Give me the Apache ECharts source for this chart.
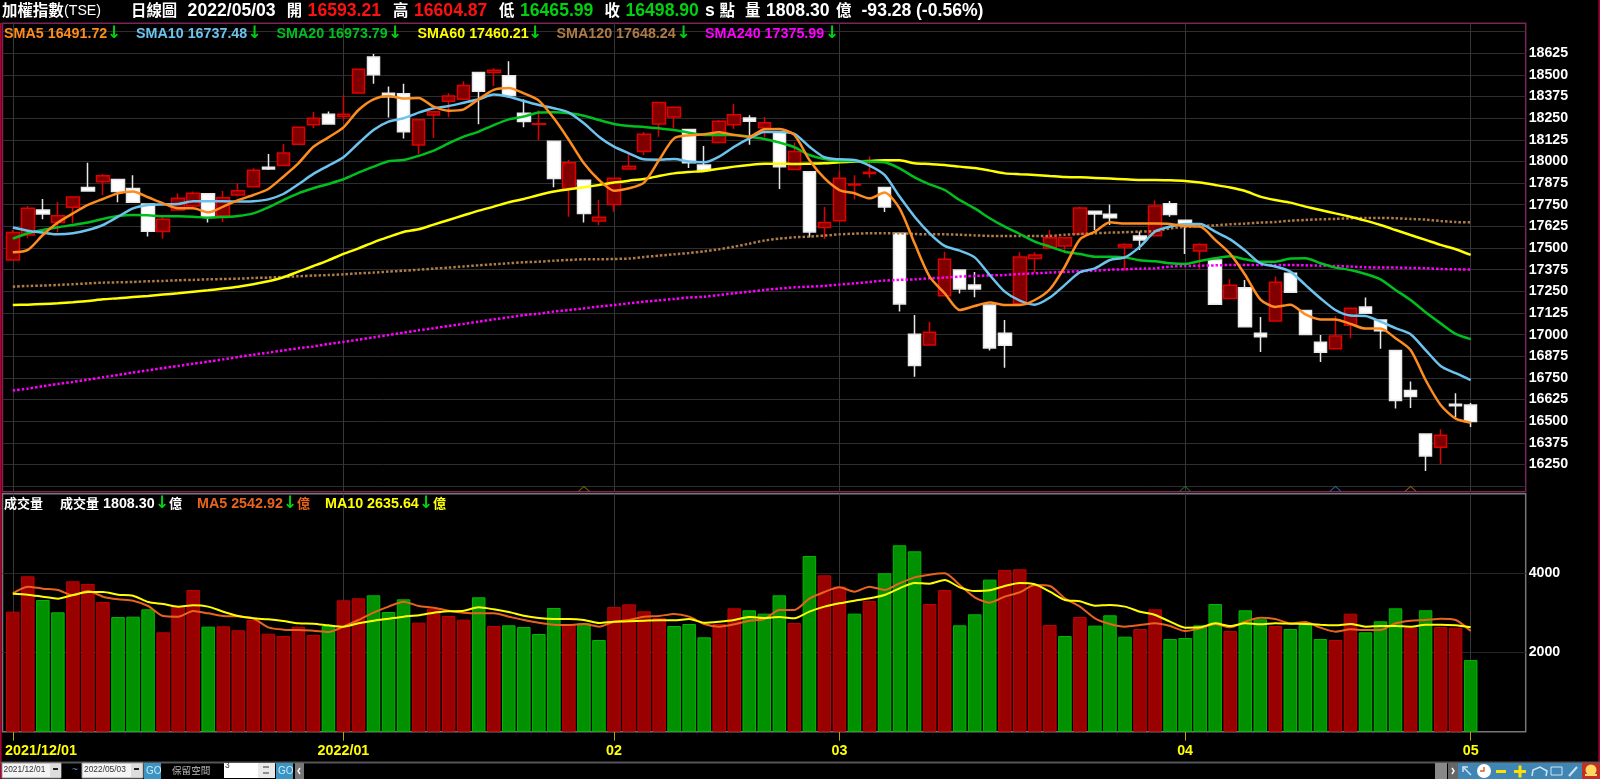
<!DOCTYPE html>
<html>
<head>
<meta charset="utf-8">
<style>html,body{margin:0;padding:0;background:#000;overflow:hidden}#c{width:1600px;height:779px}</style>
<script src="https://cdn.jsdelivr.net/npm/echarts@6/dist/echarts.min.js"></script>
</head>
<body>
<div id="c"></div>
<script>
const opens=[17431,17575,17720,17647,17735,17849,17883,17895,17843,17754,17595,17720,17743,17814,17687,17806,17854,17966,17976,18099,18212,18272,18260,18395,18603,18393,18391,18095,18268,18347,18359,18513,18513,18495,18278,18214,18116,17843,17891,17656,17752,17956,18057,18216,18257,18184,17980,18109,18212,18251,18195,18172,17953,17941,17618,17658,17864,17931,17849,17585,17002,16940,17225,17373,17287,17171,17008,17177,17439,17498,17512,17581,17712,17695,17506,17570,17571,17756,17660,17483,17431,17208,17271,17008,17079,17354,17139,16956,16919,17054,17160,17085,16909,16677,16426,16349,16598,16593.21];
const closes=[17589,17729,17697,17687,17795,17829,17918,17826,17764,17597,17666,17787,17816,17681,17791,17831,17949,17956,18049,18197,18249,18216,18272,18532,18501,18374,18172,18241,18287,18378,18439,18405,18526,18380,18230,18218,17901,17993,17700,17677,17903,17972,18157,18341,18313,17993,17951,18232,18270,18232,18224,17970,18057,17593,17648,17903,17868,17937,17737,17177,16821,17013,17435,17264,17264,16923,16938,17448,17460,17560,17560,17731,17697,17675,17521,17546,17743,17693,17639,17521,17175,17285,17046,16988,17302,17244,17000,16898,16992,17152,17123,17023,16619,16642,16299,16419,16590,16498.90];
const lows=[17431,17556,17666,17589,17643,17829,17806,17764,17764,17566,17554,17716,17724,17647,17650,17797,17854,17951,17976,18099,18193,18216,18235,18395,18449,18253,18133,18043,18135,18255,18359,18214,18436,18380,18197,18124,17851,17681,17647,17631,17710,17956,18037,18143,18191,17962,17951,18109,18189,18097,18139,17841,17953,17562,17552,17658,17781,17906,17708,17133,16757,16940,17225,17237,17216,16908,16809,17177,17358,17498,17470,17581,17604,17633,17369,17489,17571,17681,17466,17377,17175,17208,17046,16900,17079,17244,17000,16842,16919,16979,17123,16919,16573,16576,16213,16253,16523,16465.99];
const highs=[17604,17743,17783,17766,17795,17993,17928,17895,17920,17754,17677,17816,17827,17814,17829,17874,17960,18043,18101,18197,18286,18289,18382,18532,18620,18432,18449,18241,18287,18393,18463,18513,18538,18578,18359,18295,18116,18008,17891,17777,17903,18043,18170,18341,18313,18184,18089,18239,18332,18266,18257,18172,18109,17941,17737,17943,17920,18028,17849,17585,17114,17075,17479,17373,17362,17171,17085,17475,17475,17604,17560,17739,17712,17752,17527,17595,17774,17772,17660,17527,17431,17319,17316,17102,17335,17354,17139,16998,17108,17152,17215,17085,16909,16730,16426,16453,16661,16604.87];

const sma5=[17475,17489,17575,17647,17700,17749,17783,17816,17827,17793,17758,17729,17729,17706,17739,17777,17806,17841,17912,17989,18085,18139,18197,18297,18359,18378,18364,18366,18316,18293,18301,18359,18413,18424,18393,18351,18249,18124,17989,17893,17831,17845,17878,18008,18133,18151,18157,18168,18153,18143,18186,18187,18153,18008,17903,17835,17816,17787,17820,17729,17527,17335,17239,17142,17165,17185,17171,17171,17200,17262,17393,17550,17595,17649,17641,17641,17641,17639,17627,17624,17547,17466,17344,17204,17160,17173,17117,17088,17088,17062,17035,17035,16979,16911,16738,16594,16515,16491.72];
const sma10=[17618,17600,17589,17579,17585,17604,17633,17681,17729,17749,17752,17754,17770,17770,17770,17768,17770,17781,17812,17868,17928,17976,18024,18105,18182,18230,18249,18282,18307,18320,18339,18359,18386,18374,18349,18326,18307,18282,18220,18143,18085,18047,18012,18010,18014,17999,17995,18028,18085,18133,18170,18170,18159,18085,18024,18012,18008,17976,17922,17797,17681,17585,17512,17485,17446,17344,17248,17196,17173,17214,17287,17360,17383,17431,17446,17508,17595,17624,17639,17639,17595,17550,17485,17412,17393,17364,17287,17210,17142,17110,17108,17075,17037,17002,16911,16819,16777,16737.48];
const sma20=[17554,17585,17604,17620,17633,17647,17668,17685,17691,17689,17683,17683,17681,17675,17679,17685,17700,17735,17777,17816,17845,17870,17897,17935,17970,18001,18008,18032,18062,18105,18143,18172,18210,18243,18259,18282,18284,18278,18264,18239,18216,18205,18199,18191,18182,18166,18153,18153,18153,18143,18130,18109,18082,18037,18014,18003,18003,17999,17995,17960,17908,17868,17835,17777,17729,17672,17623,17581,17537,17508,17479,17466,17450,17450,17446,17429,17423,17412,17408,17425,17441,17452,17435,17421,17421,17439,17441,17412,17387,17373,17350,17319,17258,17200,17129,17065,17004,16973.79];
const sma60=[17171,17173,17177,17181,17187,17194,17204,17210,17217,17223,17231,17239,17248,17256,17266,17277,17291,17308,17331,17364,17396,17429,17466,17498,17533,17564,17593,17608,17635,17662,17689,17716,17739,17764,17783,17806,17826,17839,17851,17864,17878,17889,17899,17916,17931,17939,17945,17958,17970,17980,17987,17987,17985,17987,17989,17995,17999,18003,18007,18007,17989,17985,17980,17970,17962,17947,17931,17926,17922,17916,17910,17908,17905,17901,17897,17893,17893,17891,17887,17878,17864,17849,17829,17797,17777,17762,17739,17720,17700,17681,17658,17633,17604,17575,17547,17518,17493,17460.21];
const sma120=[17277,17281,17283,17287,17291,17296,17300,17302,17304,17308,17310,17314,17316,17319,17321,17323,17327,17329,17333,17337,17341,17344,17348,17354,17358,17364,17369,17375,17381,17387,17394,17400,17406,17412,17418,17421,17427,17431,17435,17435,17437,17439,17448,17456,17464,17471,17481,17493,17508,17525,17543,17554,17562,17566,17572,17579,17583,17585,17585,17585,17581,17579,17579,17577,17573,17570,17570,17570,17570,17570,17577,17581,17585,17589,17591,17595,17598,17614,17622,17627,17631,17637,17641,17647,17650,17658,17662,17666,17668,17672,17674,17674,17672,17668,17664,17656,17650,17648.24];
const sma240=[16677,16688,16702,16715,16727,16740,16754,16767,16781,16794,16807,16819,16832,16844,16857,16871,16884,16896,16909,16921,16932,16946,16958,16971,16984,16998,17011,17025,17037,17050,17062,17075,17088,17100,17113,17121,17133,17142,17152,17162,17171,17181,17190,17198,17206,17214,17219,17229,17239,17248,17258,17266,17273,17277,17281,17289,17296,17304,17312,17316,17319,17325,17329,17335,17339,17342,17344,17350,17354,17358,17362,17366,17369,17375,17377,17381,17383,17393,17396,17398,17400,17402,17402,17402,17402,17402,17400,17398,17396,17393,17389,17387,17387,17385,17383,17379,17377,17375.99];

const volumes=[3031,3924,3326,3014,3797,3730,3275,2896,2905,3090,2509,3174,3579,2652,2661,2560,2821,2475,2417,2652,2442,2669,3317,3368,3444,3023,3343,2753,3107,2922,2829,3393,2669,2686,2644,2467,3124,2720,2737,2316,3149,3216,3040,2871,2669,2720,2383,2720,3115,3065,2981,3444,2745,4437,3949,3663,2981,3301,4000,4707,4555,3225,3579,2686,2964,3840,4084,4101,3705,2694,2417,2896,2678,2939,2400,2593,3090,2341,2366,2686,3225,2543,3065,2838,2669,2593,2753,2341,2316,2981,2509,2787,3115,2627,3065,2644,2627,1808.30];
const volDir='RRGGRRRGGGRRRGRRRRRRRGRRGGGRRRRGRGGGGRGGRRRRGGGRRGGGRGRRGRGGGRRGGGRRRRGRGGGRRGGGGRGGRGGGRRGGGRGRRG';
const volMa5=[3494,3663,3612,3579,3444,3553,3410,3343,3309,3174,2922,2905,3048,2989,2922,2913,2863,2635,2577,2568,2551,2518,2652,2821,3006,3158,3284,3174,3132,3056,3006,2989,2989,2905,2821,2753,2703,2694,2720,2652,2779,2821,2905,2922,2972,2905,2720,2652,2711,2804,2838,3073,3073,3360,3528,3646,3536,3663,3579,3747,3898,3966,4000,3705,3393,3259,3410,3520,3705,3680,3368,3158,2863,2720,2652,2694,2737,2669,2543,2610,2720,2635,2779,2880,2846,2737,2770,2627,2526,2585,2568,2568,2737,2804,2821,2854,2821,2542.92];
const volMa10=[3486,3461,3410,3360,3452,3528,3528,3461,3435,3275,3225,3158,3191,3158,3031,2922,2863,2838,2795,2737,2728,2686,2652,2737,2804,2854,2905,2939,3006,3040,3056,3141,3090,3023,2930,2871,2846,2846,2821,2745,2779,2787,2804,2812,2812,2846,2753,2779,2821,2896,2871,2896,2863,3031,3158,3242,3309,3368,3452,3621,3755,3738,3831,3646,3553,3570,3680,3755,3722,3536,3326,3292,3183,3200,3158,3031,2947,2779,2627,2635,2737,2669,2737,2711,2737,2728,2720,2703,2686,2720,2652,2669,2669,2652,2703,2703,2686,2635.64];

const monthTicks=[0,22,40,55,78,97];
const monthLabels=['2021/12/01','2022/01','02','03','04','05'];
const priceLines=[16125,16250,16375,16500,16625,16750,16875,17000,17125,17250,17375,17500,17625,17750,17875,18000,18125,18250,18375,18500,18625,18750];
const priceLabels=[16250,16375,16500,16625,16750,16875,17000,17125,17250,17375,17500,17625,17750,17875,18000,18125,18250,18375,18500,18625];
const volTicks=[2000,4000];
const signalIdx=[38,78,88,93];
const signalColor=['#8a8000','#1f7a30','#2f78a8','#b06a20'];

const FF="'Liberation Sans','Noto Sans CJK TC',Arial,sans-serif";
const ORANGE='#ff8c1e',BLUE='#6cc4ee',GREEN='#00c020',YEL='#ffff00',BROWN='#b07c46',MAG='#ff00ff',VOR='#e8641e',DN='#00d010';

function txt(t,x,y,fill,size,weight,align){return {type:'text',x:x,y:y,silent:true,z:50,style:{text:t,fill:fill,font:(weight||'bold')+' '+size+'px '+FF,verticalAlign:'middle',align:align||'left'}};}
function arrow(x,y){return {type:'text',x:x,y:y,silent:true,z:50,style:{text:'↓',fill:DN,font:"bold 17px 'DejaVu Sans'",verticalAlign:'middle',align:'center'}};}
function box(x,y,w,h,fill,stroke){return {type:'rect',silent:true,z:40,shape:{x:x,y:y,width:w,height:h},style:{fill:fill,stroke:stroke||null,lineWidth:stroke?1:0}};}
function poly(pts,stroke,lw){return {type:'polyline',silent:true,z:45,shape:{points:pts},style:{stroke:stroke,lineWidth:lw,fill:null}};}

const H=17.6,C=15.4,L=14.3,C2=13;
const graphics=[
 box(0,23,1.6,756,'#b00030'),box(1598.4,0,1.6,762,'#a00030'),
 txt('加權指數',2,11.5,'#fff',C),txt('(TSE)',64,11.5,'#fff',14.2,'normal'),txt('日線圖',131,11.5,'#fff',C),txt('2022/05/03',187.6,11.5,'#fff',H),
 txt('開',286.7,11.5,'#fff',C),txt('16593.21',307.6,11.5,'#ff1010',H),
 txt('高',393,11.5,'#fff',C),txt('16604.87',414,11.5,'#ff1010',H),
 txt('低',499,11.5,'#fff',C),txt('16465.99',520,11.5,'#00d010',H),
 txt('收',604.5,11.5,'#fff',C),txt('16498.90',625.5,11.5,'#00d010',H),
 txt('s',705,11.5,'#fff',H),txt('點',719.5,11.5,'#fff',C),txt('量',745,11.5,'#fff',C),txt('1808.30',766,11.5,'#fff',H),txt('億',836,11.5,'#fff',C),
 txt('-93.28',861.5,11.5,'#fff',H),txt('(-0.56%)',916,11.5,'#fff',H),
 txt('SMA5 16491.72',4,34,ORANGE,L),arrow(114,34),
 txt('SMA10 16737.48',136,34,BLUE,L),arrow(254.5,34),
 txt('SMA20 16973.79',276.5,34,GREEN,L),arrow(395,34),
 txt('SMA60 17460.21',417.5,34,YEL,L),arrow(535,34),
 txt('SMA120 17648.24',556.5,34,BROWN,L),arrow(683.5,34),
 txt('SMA240 17375.99',705,34,MAG,L),arrow(832,34),
 txt('成交量',4,504,'#fff',C2),txt('成交量',60,504,'#fff',C2),txt('1808.30',103,504,'#fff',L),arrow(162,504),txt('億',169,504,'#fff',C2),
 txt('MA5 2542.92',197,504,VOR,L),arrow(290,504),txt('億',297,504,VOR,C2),
 txt('MA10 2635.64',325,504,YEL,L),arrow(426,504),txt('億',433,504,YEL,C2),
 txt('2021/12/01',5,751.5,YEL,14.4),
 box(0,761.5,1600,2,'#555'),
 box(2,763,59,15,'#f4f4f4','#999'),txt('2021/12/01',3.5,770,'#333',8.4,'normal'),box(50,764,11,13,'#ddd'),poly([[53,769],[58,769]],'#222',2),
 txt('~',72,770,'#6a90c0',10,'normal'),
 box(82,763,61,15,'#f4f4f4','#999'),txt('2022/05/03',84,770,'#333',8.4,'normal'),box(131,764,11,13,'#ddd'),poly([[134,769],[139,769]],'#222',2),
 box(144,763,17,16,'#3a94c4'),txt('GO',146,771,'#cfe8f4',10,'normal'),
 txt('保留空間',172,771,'#bbb',9.6,'normal'),
 box(224,763,34,15,'#fff'),txt('3',225,766,'#333',8.4,'normal'),box(258,763,17,15,'#e8e8e8'),poly([[263,767],[269,767]],'#333',1),poly([[263,773],[269,773]],'#333',1),
 box(276,763,17,16,'#3a94c4'),txt('GO',278,771,'#cfe8f4',10,'normal'),
 box(295,763,9,16,'#777'),poly([[300,768],[298,771],[300,774]],'#fff',1.4),
 box(1435,763,12,16,'#888'),box(1448,763,10,16,'#666'),poly([[1452,768],[1454,771],[1452,774]],'#fff',1.4),
 box(1458,763,124,16,'#3f86b4'),box(1582,763,18,16,'#c03028'),
 poly([[1463,767],[1471,775]],'#cfe4f0',1.5),poly([[1463,772],[1463,767],[1468,767]],'#cfe4f0',1.5),
 {type:'circle',silent:true,z:45,shape:{cx:1484,cy:771,r:7},style:{fill:'#fff'}},poly([[1484,767],[1484,771],[1480,771]],'#e06020',1.4),
 poly([[1496,771.5],[1506,771.5]],'#ffe000',3),poly([[1514,771.5],[1526,771.5]],'#ffe000',3),poly([[1520,765.5],[1520,777.5]],'#ffe000',3),
 poly([[1532,776],[1533,770],[1540,767],[1547,771],[1546,776]],'#cfe4f0',1.5),
 box(1551,767,11,8,null,'#cfe4f0'),
 poly([[1569,776],[1577,767]],'#cfe4f0',2),
 {type:'circle',silent:true,z:45,shape:{cx:1591,cy:770,r:5.5},style:{fill:'#ffd860'}},box(1585,774,12,2,'#ffd860')
];

const idx=a=>a.map((v,i)=>[i,v]);
function lineSeries(name,arr,color,width,dash,xi,yi){return {name:name,type:'line',xAxisIndex:xi,yAxisIndex:yi,data:idx(arr),showSymbol:false,smooth:0.25,silent:true,z:10,lineStyle:{color:color,width:width,type:dash||'solid'}};}

const candleData=opens.map((o,i)=>[i,o,closes[i],lows[i],highs[i]]);
const volData=volumes.map((v,i)=>{const r=volDir[i]==='R';return {value:[i,v],itemStyle:{color:r?'#990000':'#009000',borderColor:r?'#c00000':'#00b800',borderWidth:1}};});

const xBase={type:'value',min:-0.685,max:100.66,splitLine:{show:true,lineStyle:{color:'#363636',width:1}},axisLine:{show:false,onZero:false},axisPointer:{show:false}};
const option={
 backgroundColor:'#000',animation:false,
 grid:[
  {left:2.5,width:1523.2,top:23.3,height:468.4,show:true,borderColor:'#7a2458',borderWidth:1.5,backgroundColor:'transparent'},
  {left:2.5,width:1523.2,top:493.7,height:238,show:true,borderColor:'#777',borderWidth:1.5,backgroundColor:'transparent'}
 ],
 xAxis:[
  Object.assign({},xBase,{gridIndex:0,axisTick:{show:false,customValues:monthTicks},axisLabel:{show:false,customValues:monthTicks}}),
  Object.assign({},xBase,{gridIndex:1,position:'bottom',axisTick:{show:true,length:9,lineStyle:{color:'#b8a800',width:1},customValues:monthTicks},
   axisLabel:{show:true,margin:12,color:YEL,fontWeight:'bold',fontSize:14.3,fontFamily:FF,customValues:monthTicks.slice(1),formatter:v=>monthLabels[monthTicks.indexOf(v)]}})
 ],
 yAxis:[
  {type:'value',gridIndex:0,position:'right',min:16093,max:18797.6,scale:true,axisLine:{show:false},axisTick:{show:false,customValues:priceLines},
   splitLine:{show:true,lineStyle:{color:'#2e2e2e',width:1}},axisLabel:{color:'#fff',fontWeight:'bold',fontSize:14.2,fontFamily:FF,margin:3,customValues:priceLabels,formatter:v=>String(v)}},
  {type:'value',gridIndex:1,position:'right',min:0,max:6010,axisLine:{show:false},axisTick:{show:false,customValues:volTicks},
   splitLine:{show:true,lineStyle:{color:'#262626',width:1}},axisLabel:{color:'#fff',fontWeight:'bold',fontSize:14.2,fontFamily:FF,margin:3,customValues:volTicks,formatter:v=>String(v)}}
 ],
 series:[
  {type:'candlestick',name:'K',xAxisIndex:0,yAxisIndex:0,barWidth:13,silent:true,z:5,data:candleData,
   itemStyle:{color:'#800000',color0:'#ffffff',borderColor:'#e00000',borderColor0:'#e8e8e8',borderWidth:1.5}},
  lineSeries('SMA240',sma240,MAG,2.5,[2.5,2],0,0),
  lineSeries('SMA120',sma120,BROWN,2.5,[2.5,2],0,0),
  lineSeries('SMA60',sma60,YEL,2.5,null,0,0),
  lineSeries('SMA20',sma20,GREEN,2.5,null,0,0),
  lineSeries('SMA10',sma10,BLUE,2.5,null,0,0),
  lineSeries('SMA5',sma5,ORANGE,2.5,null,0,0),
  {type:'scatter',name:'signal',xAxisIndex:0,yAxisIndex:0,silent:true,z:6,symbol:'path://M0 10L5 0L10 10',symbolSize:[11,5],
   data:signalIdx.map((s,i)=>({value:[s,16109],itemStyle:{color:'none',borderColor:signalColor[i],borderWidth:1}}))},
  {type:'bar',name:'成交量',xAxisIndex:1,yAxisIndex:1,barWidth:13.5,silent:true,z:5,data:volData},
  lineSeries('MA5',volMa5,VOR,2,null,1,1),
  lineSeries('MA10',volMa10,YEL,2,null,1,1)
 ],
 graphic:graphics
};
const chart=echarts.init(document.getElementById('c'),null,{renderer:'canvas',width:1600,height:779});
chart.setOption(option);
</script>
</body>
</html>
